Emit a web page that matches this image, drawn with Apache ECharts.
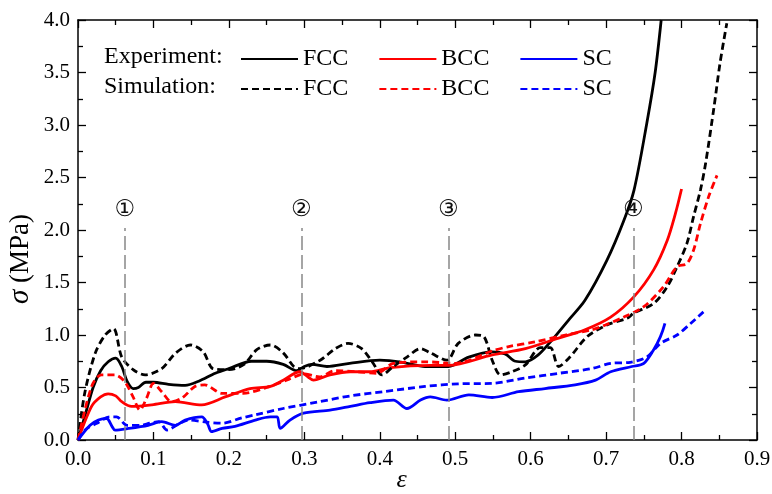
<!DOCTYPE html>
<html>
<head>
<meta charset="utf-8">
<script src="https://cdn.jsdelivr.net/npm/echarts@6/dist/echarts.min.js"></script>
<style>
html,body{margin:0;padding:0;background:#fff;}
#chart{width:772px;height:494px;}
</style>
</head>
<body>
<div id="chart"></div>
<script>
// strain (ε) vs stress (σ, MPa)
const expFCC = [[0,0],[0.01,0.25],[0.02,0.5],[0.03,0.66],[0.04,0.745],[0.05,0.78],[0.058,0.7],[0.065,0.56],[0.073,0.49],[0.08,0.5],[0.09,0.55],[0.1,0.55],[0.12,0.53],[0.142,0.52],[0.16,0.56],[0.182,0.635],[0.2,0.68],[0.23,0.75],[0.25,0.75],[0.272,0.72],[0.29,0.66],[0.3,0.7],[0.31,0.72],[0.33,0.7],[0.36,0.73],[0.4,0.76],[0.43,0.74],[0.46,0.70],[0.491,0.70],[0.518,0.79],[0.549,0.84],[0.566,0.82],[0.58,0.75],[0.593,0.745],[0.61,0.81],[0.628,0.95],[0.65,1.14],[0.672,1.33],[0.701,1.71],[0.723,2.08],[0.737,2.38],[0.754,3.02],[0.765,3.5],[0.773,4.0]];
const simFCC = [[0,0],[0.009,0.45],[0.023,0.83],[0.036,1.0],[0.047,1.06],[0.058,0.79],[0.073,0.67],[0.089,0.62],[0.111,0.68],[0.129,0.825],[0.149,0.905],[0.166,0.84],[0.179,0.68],[0.2,0.67],[0.22,0.72],[0.237,0.86],[0.255,0.905],[0.272,0.83],[0.286,0.70],[0.294,0.68],[0.321,0.76],[0.341,0.87],[0.358,0.92],[0.376,0.87],[0.39,0.745],[0.403,0.62],[0.418,0.70],[0.436,0.79],[0.454,0.87],[0.467,0.83],[0.489,0.76],[0.504,0.92],[0.527,1.0],[0.538,0.985],[0.549,0.76],[0.56,0.62],[0.575,0.65],[0.593,0.715],[0.613,0.88],[0.626,0.88],[0.637,0.70],[0.652,0.79],[0.675,0.985],[0.701,1.095],[0.728,1.16],[0.737,1.21],[0.763,1.30],[0.781,1.46],[0.794,1.65],[0.807,1.87],[0.816,2.13],[0.825,2.38],[0.832,2.64],[0.843,3.17],[0.851,3.59],[0.86,3.97]];
const expBCC = [[0,0],[0.018,0.32],[0.03,0.41],[0.04,0.44],[0.05,0.42],[0.058,0.365],[0.071,0.32],[0.098,0.335],[0.129,0.365],[0.164,0.335],[0.195,0.41],[0.228,0.49],[0.255,0.51],[0.272,0.57],[0.294,0.65],[0.305,0.6],[0.312,0.57],[0.334,0.62],[0.361,0.65],[0.387,0.65],[0.414,0.69],[0.467,0.71],[0.491,0.71],[0.549,0.81],[0.593,0.87],[0.637,0.97],[0.672,1.05],[0.706,1.17],[0.737,1.365],[0.763,1.62],[0.781,1.90],[0.792,2.16],[0.8,2.39]];
const simBCC = [[0,0],[0.018,0.51],[0.031,0.62],[0.049,0.62],[0.062,0.555],[0.073,0.41],[0.082,0.285],[0.091,0.40],[0.1,0.54],[0.111,0.46],[0.124,0.365],[0.138,0.40],[0.155,0.51],[0.168,0.525],[0.191,0.445],[0.219,0.445],[0.25,0.5],[0.28,0.58],[0.3,0.63],[0.32,0.6],[0.34,0.66],[0.37,0.65],[0.396,0.635],[0.418,0.73],[0.46,0.745],[0.5,0.73],[0.55,0.85],[0.571,0.89],[0.606,0.935],[0.646,1.0],[0.681,1.05],[0.699,1.095],[0.723,1.17],[0.75,1.27],[0.776,1.46],[0.794,1.65],[0.807,1.68],[0.816,1.81],[0.825,2.06],[0.836,2.32],[0.847,2.52]];
const expSC = [[0,0],[0.016,0.14],[0.027,0.19],[0.038,0.205],[0.045,0.13],[0.049,0.095],[0.067,0.11],[0.093,0.14],[0.111,0.175],[0.129,0.14],[0.142,0.19],[0.164,0.22],[0.172,0.15],[0.177,0.08],[0.191,0.11],[0.208,0.13],[0.235,0.19],[0.255,0.22],[0.264,0.22],[0.268,0.11],[0.281,0.19],[0.299,0.255],[0.334,0.285],[0.361,0.32],[0.387,0.355],[0.418,0.38],[0.436,0.30],[0.454,0.38],[0.467,0.41],[0.489,0.38],[0.518,0.43],[0.549,0.405],[0.584,0.46],[0.619,0.49],[0.659,0.525],[0.686,0.57],[0.706,0.65],[0.734,0.70],[0.75,0.73],[0.763,0.86],[0.772,0.985],[0.778,1.11]];
const simSC = [[0,0],[0.01,0.1],[0.025,0.16],[0.042,0.22],[0.051,0.22],[0.065,0.14],[0.084,0.14],[0.095,0.16],[0.107,0.175],[0.118,0.095],[0.135,0.16],[0.146,0.19],[0.17,0.17],[0.191,0.16],[0.217,0.21],[0.235,0.24],[0.272,0.30],[0.317,0.36],[0.361,0.42],[0.405,0.46],[0.46,0.51],[0.504,0.535],[0.549,0.54],[0.593,0.59],[0.637,0.635],[0.681,0.68],[0.706,0.73],[0.732,0.74],[0.754,0.79],[0.772,0.92],[0.794,1.0],[0.812,1.11],[0.829,1.22]];
const stageX = [0.062, 0.296, 0.491, 0.736];
const stageLabels = ['①','②','③','④'];
const stageTop = 2.02;
const xTicks = {min:0, max:0.9, interval:0.1};
const yTicks = {min:0, max:4.0, interval:0.5};

const SERIF = '"Liberation Serif","Times New Roman",serif';
const chart = echarts.init(document.getElementById('chart'), null, {renderer:'canvas'});

function lineSeries(name, data, color, dashed){
  return {
    name, type:'line', data, xAxisIndex:0, yAxisIndex:0,
    showSymbol:false, symbol:'none', smooth:0.3,
    lineStyle:{color, width:2.8, type: dashed ? [7,4] : 'solid'},
    itemStyle:{color},
    z: dashed ? 3 : 2
  };
}

const axisCommon = {
  axisLine:{show:true, onZero:false, lineStyle:{color:'#000', width:1.5}},
  axisTick:{show:true, inside:true, length:8, lineStyle:{color:'#000', width:1.3}},
  minorTick:{show:true, splitNumber:2, length:5, lineStyle:{color:'#000', width:1.3}},
  splitLine:{show:false}
};

const seriesList = [
  lineSeries('Exp FCC', expFCC, '#000000', false),
  lineSeries('Exp BCC', expBCC, '#ff0000', false),
  lineSeries('Exp SC', expSC, '#0000ff', false),
  lineSeries('Sim FCC', simFCC, '#000000', true),
  lineSeries('Sim BCC', simBCC, '#ff0000', true),
  lineSeries('Sim SC', simSC, '#0000ff', true),
  {
    name:'stages', type:'line', data:[], xAxisIndex:0, yAxisIndex:0,
    markLine:{
      silent:true, symbol:['none','none'], animation:false,
      lineStyle:{color:'#888', width:1.5, type:[14,5]},
      label:{show:true, position:'end', distance:6, formatter:'{b}',
        fontSize:23, color:'#111', fontFamily:'"DejaVu Sans","Noto Sans CJK SC",sans-serif'},
      data: stageX.map((x,i)=>[{name:stageLabels[i], coord:[x,0]},{coord:[x,stageTop]}])
    }
  }
];

const legendText = {fontSize:24, fontFamily:SERIF, color:'#000'};
const legendCommon = {
  left:240, orient:'horizontal', padding:0, itemWidth:57, itemHeight:14, itemGap:30,
  formatter:n=>n.split(' ')[1], textStyle:legendText, selectedMode:false,
  itemStyle:{color:'transparent', borderColor:'transparent', borderWidth:0, opacity:0}
};
chart.setOption({
  animation:false,
  backgroundColor:'#fff',
  grid:{left:78, right:15, top:20, bottom:54, containLabel:false, outerBoundsMode:'none'},
  xAxis:[
    Object.assign({type:'value', min:xTicks.min, max:xTicks.max, interval:xTicks.interval, position:'bottom',
      name:'ε', nameLocation:'middle', nameGap:27, nameMoveOverlap:false,
      nameTextStyle:{fontSize:26, fontStyle:'italic', fontFamily:SERIF, color:'#000', padding:[0,32,0,0]},
      axisLabel:{margin:9, fontSize:21, fontFamily:SERIF, color:'#000', formatter:v=>v.toFixed(1)}}, axisCommon),
    Object.assign({type:'value', min:xTicks.min, max:xTicks.max, interval:xTicks.interval, position:'top',
      axisLabel:{show:false}}, axisCommon)
  ],
  yAxis:[
    Object.assign({type:'value', min:yTicks.min, max:yTicks.max, interval:yTicks.interval, position:'left',
      name:'{i|σ} (MPa)', nameLocation:'middle', nameGap:43, nameRotate:90, nameMoveOverlap:false,
      nameTextStyle:{fontSize:27, fontFamily:SERIF, color:'#000', padding:[0,58,0,0],
        rich:{i:{fontSize:29, fontStyle:'italic', fontFamily:SERIF, color:'#000'}}},
      axisLabel:{margin:8, fontSize:21, fontFamily:SERIF, color:'#000', formatter:v=>v.toFixed(1)}}, axisCommon),
    Object.assign({type:'value', min:yTicks.min, max:yTicks.max, interval:yTicks.interval, position:'right',
      axisLabel:{show:false}}, axisCommon)
  ],
  legend:[
    Object.assign({data:['Exp FCC','Exp BCC','Exp SC'], top:47}, legendCommon),
    Object.assign({data:['Sim FCC','Sim BCC','Sim SC'], top:77}, legendCommon)
  ],
  graphic:[
    {type:'text', left:104, top:45, style:{text:'Experiment:', font:'24px "Liberation Serif"', fill:'#000'}},
    {type:'text', left:104, top:75, style:{text:'Simulation:', font:'24px "Liberation Serif"', fill:'#000'}}
  ],
  series: seriesList
});
</script>
</body>
</html>
